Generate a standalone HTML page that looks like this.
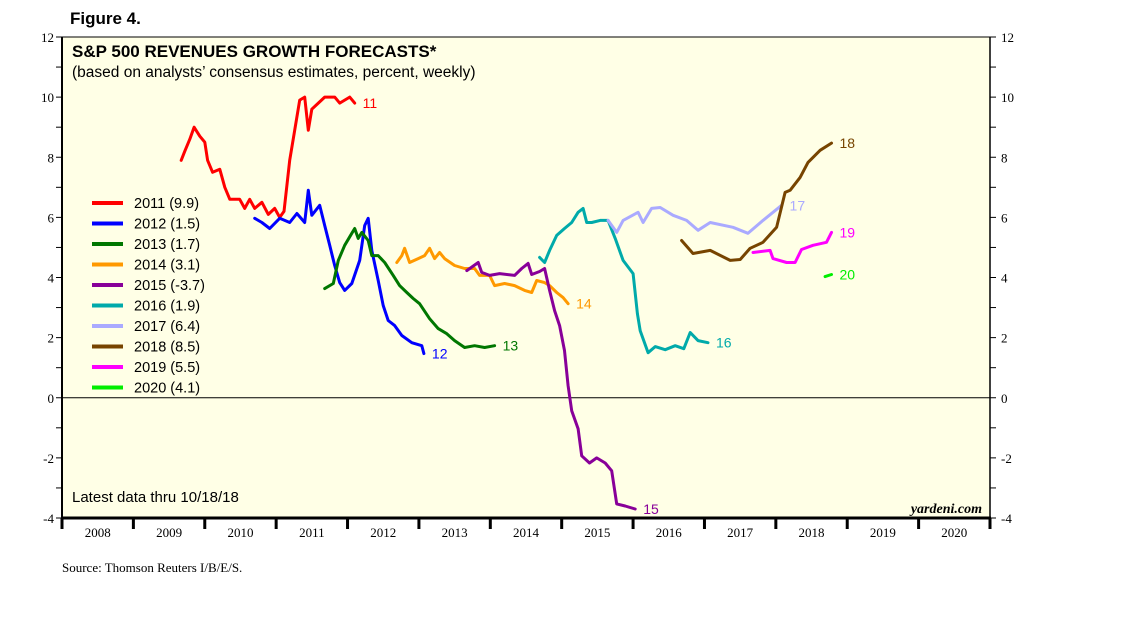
<!DOCTYPE html>
<html><head><meta charset="utf-8"><style>
body{margin:0;background:#fff;width:1138px;height:621px;overflow:hidden}
svg text{font-family:"Liberation Sans",sans-serif}
.serif{font-family:"Liberation Serif",serif}
</style></head><body>
<svg id="chart" width="1138" height="621" xmlns="http://www.w3.org/2000/svg">
<text x="70" y="24" font-size="17" font-weight="bold">Figure 4.</text>
<rect x="62" y="37" width="928" height="481" fill="#ffffe6" stroke="#000" stroke-width="1"/>
<line x1="62" y1="37" x2="62" y2="518" stroke="#000" stroke-width="2"/>
<line x1="990" y1="37" x2="990" y2="518" stroke="#000" stroke-width="1.5"/>
<text x="72" y="57" font-size="17" font-weight="bold">S&amp;P 500 REVENUES GROWTH FORECASTS*</text>
<text x="72" y="77" font-size="15.5">(based on analysts’ consensus estimates, percent, weekly)</text>
<text x="72" y="502" font-size="15">Latest data thru 10/18/18</text>
<text x="982" y="513" font-size="14" font-weight="bold" font-style="italic" text-anchor="end" class="serif">yardeni.com</text>
<text x="62" y="572" font-size="13" class="serif">Source: Thomson Reuters I/B/E/S.</text>
<g id="axes"></g><g id="series"></g><g id="legend"></g>
</svg>
<script>
const yTicks=[12,10,8,6,4,2,0,-2,-4];
const years=[2008,2009,2010,2011,2012,2013,2014,2015,2016,2017,2018,2019,2020];
const seriesNames=["2011","2012","2013","2014","2015","2016","2017","2018","2019","2020"];
const seriesFinal=["9.9","1.5","1.7","3.1","-3.7","1.9","6.4","8.5","5.5","4.1"];
const seriesShort=["11","12","13","14","15","16","17","18","19","20"];
const colors=["#ff0000","#0000ff","#007700","#ff9900","#880099","#00aaaa","#aaaaff","#774400","#ff00ff","#00ee00"];
const s2011=[[2009.67,7.9],[2009.72,8.2],[2009.79,8.6],[2009.85,9.0],[2009.93,8.7],[2010.0,8.5],[2010.04,7.9],[2010.11,7.5],[2010.21,7.6],[2010.28,7.0],[2010.35,6.6],[2010.49,6.6],[2010.56,6.3],[2010.63,6.6],[2010.70,6.3],[2010.80,6.5],[2010.89,6.1],[2010.98,6.3],[2011.05,6.0],[2011.11,6.2],[2011.19,7.9],[2011.26,8.9],[2011.33,9.9],[2011.40,10.0],[2011.45,8.9],[2011.50,9.6],[2011.59,9.8],[2011.68,10.0],[2011.82,10.0],[2011.89,9.8],[2012.03,10.0],[2012.10,9.8]];
const s2012=[[2010.70,5.97],[2010.80,5.83],[2010.91,5.63],[2011.05,5.97],[2011.19,5.83],[2011.29,6.13],[2011.40,5.83],[2011.45,6.9],[2011.50,6.07],[2011.61,6.4],[2011.68,5.73],[2011.75,5.07],[2011.82,4.4],[2011.89,3.83],[2011.96,3.57],[2012.06,3.8],[2012.17,4.57],[2012.24,5.73],[2012.29,5.97],[2012.34,4.9],[2012.43,3.9],[2012.50,3.07],[2012.57,2.57],[2012.66,2.4],[2012.76,2.07],[2012.90,1.83],[2013.04,1.73],[2013.07,1.47]];
const s2013=[[2011.68,3.63],[2011.80,3.8],[2011.87,4.57],[2011.96,5.07],[2012.06,5.47],[2012.10,5.63],[2012.15,5.3],[2012.20,5.5],[2012.29,5.23],[2012.34,4.73],[2012.43,4.73],[2012.52,4.5],[2012.64,4.07],[2012.73,3.73],[2012.83,3.5],[2012.92,3.3],[2013.01,3.13],[2013.15,2.63],[2013.27,2.3],[2013.39,2.13],[2013.50,1.9],[2013.64,1.67],[2013.78,1.73],[2013.92,1.67],[2014.06,1.73]];
const s2014=[[2012.69,4.5],[2012.76,4.73],[2012.80,4.97],[2012.87,4.5],[2012.99,4.63],[2013.08,4.73],[2013.15,4.97],[2013.22,4.63],[2013.29,4.83],[2013.36,4.63],[2013.50,4.4],[2013.64,4.3],[2013.78,4.3],[2013.85,4.07],[2013.99,4.07],[2014.06,3.73],[2014.20,3.8],[2014.34,3.73],[2014.48,3.57],[2014.58,3.5],[2014.65,3.9],[2014.76,3.83],[2014.83,3.73],[2014.93,3.5],[2015.02,3.33],[2015.09,3.13]];
const s2015=[[2013.67,4.23],[2013.83,4.5],[2013.88,4.17],[2013.99,4.07],[2014.13,4.13],[2014.34,4.07],[2014.44,4.3],[2014.53,4.47],[2014.58,4.1],[2014.69,4.2],[2014.76,4.3],[2014.83,3.57],[2014.90,2.9],[2014.97,2.4],[2015.04,1.57],[2015.09,0.4],[2015.14,-0.43],[2015.23,-1.03],[2015.28,-1.93],[2015.39,-2.17],[2015.49,-2.0],[2015.61,-2.17],[2015.70,-2.43],[2015.77,-3.53],[2015.89,-3.6],[2016.03,-3.7]];
const s2016=[[2014.69,4.67],[2014.76,4.5],[2014.83,4.9],[2014.93,5.4],[2015.04,5.63],[2015.14,5.83],[2015.23,6.17],[2015.30,6.3],[2015.35,5.83],[2015.42,5.83],[2015.54,5.9],[2015.65,5.9],[2015.75,5.3],[2015.86,4.57],[2016.0,4.13],[2016.06,2.8],[2016.10,2.23],[2016.21,1.5],[2016.31,1.7],[2016.45,1.6],[2016.59,1.73],[2016.71,1.63],[2016.80,2.17],[2016.91,1.9],[2017.05,1.83]];
const s2017=[[2015.65,5.9],[2015.77,5.5],[2015.86,5.9],[2016.07,6.17],[2016.14,5.83],[2016.26,6.3],[2016.38,6.33],[2016.56,6.07],[2016.75,5.9],[2016.91,5.57],[2017.08,5.83],[2017.40,5.67],[2017.61,5.47],[2017.82,5.9],[2017.96,6.17],[2018.08,6.4]];
const s2018=[[2016.68,5.23],[2016.84,4.8],[2017.08,4.9],[2017.36,4.57],[2017.50,4.6],[2017.64,4.97],[2017.82,5.17],[2018.01,5.67],[2018.13,6.83],[2018.20,6.9],[2018.34,7.33],[2018.45,7.83],[2018.62,8.23],[2018.78,8.47]];
const s2019=[[2017.68,4.83],[2017.92,4.9],[2017.96,4.63],[2018.15,4.5],[2018.27,4.5],[2018.36,4.93],[2018.52,5.07],[2018.71,5.17],[2018.78,5.5]];
const s2020=[[2018.69,4.03],[2018.78,4.1]];
const allSeries=[s2011,s2012,s2013,s2014,s2015,s2016,s2017,s2018,s2019,s2020];

const X0=62,X1=990,Y0=37,Y1=518;
const xs=t=>X0+(t-2008)*(X1-X0)/13;
const ys=v=>Y0+(12-v)*(Y1-Y0)/16;
const NS="http://www.w3.org/2000/svg";
function mk(tag,attrs,parent,text){const e=document.createElementNS(NS,tag);for(const k in attrs)e.setAttribute(k,attrs[k]);if(text!==undefined)e.textContent=text;parent.appendChild(e);return e;}
const axes=document.getElementById('axes');
for(let v=-4;v<=12;v++){
  const l=mk('line',{x1:X0-6,x2:X0,y1:ys(v),y2:ys(v),stroke:'#000'},axes);
  
  
  const r=mk('line',{x1:X1,x2:X1+6,y1:ys(v),y2:ys(v),stroke:'#000'},axes);
  
  
}
yTicks.forEach(v=>{
  const a=mk('text',{x:X0-8,y:ys(v)+5,'font-size':13,'text-anchor':'end',class:'serif'},axes,String(v));
  
  
  const b=mk('text',{x:X1+11,y:ys(v)+5,'font-size':13,class:'serif'},axes,String(v));
  
  
});
const zl=mk('line',{x1:X0,x2:X1,y1:ys(0),y2:ys(0),stroke:'#000','stroke-width':1},axes);


const bl=mk('line',{x1:X0-1,x2:X1+1,y1:Y1,y2:Y1,stroke:'#000','stroke-width':3},axes);


for(let i=0;i<=13;i++){
  const t=mk('line',{x1:xs(2008+i),x2:xs(2008+i),y1:Y1,y2:Y1+11,stroke:'#000','stroke-width':3},axes);
  
  
}
years.forEach(y=>{
  const t=mk('text',{x:xs(y+0.5),y:537,'font-size':13,'text-anchor':'middle',class:'serif'},axes,String(y));
  
  
});
const sg=document.getElementById('series');
allSeries.forEach((s,i)=>{
  const d=s.map((p,j)=>(j?'L':'M')+xs(p[0]).toFixed(1)+','+ys(p[1]).toFixed(1)).join('');
  const p=mk('path',{d:d,fill:'none',stroke:colors[i],'stroke-width':3,'stroke-linejoin':'round','stroke-linecap':'round'},sg);
  
  
  const last=s[s.length-1];
  const t=mk('text',{x:xs(last[0])+8,y:ys(last[1])+5,'font-size':14,fill:colors[i]},sg,seriesShort[i]);
  
  
});
const lg=document.getElementById('legend');
seriesNames.forEach((n,i)=>{
  const y=203+i*20.5;
  const l=mk('line',{x1:92,x2:123,y1:y,y2:y,stroke:colors[i],'stroke-width':4},lg);
  
  
  const t=mk('text',{x:134,y:y+5,'font-size':14.5},lg,n+' ('+seriesFinal[i]+')');
  
  
});
</script>
</body></html>
